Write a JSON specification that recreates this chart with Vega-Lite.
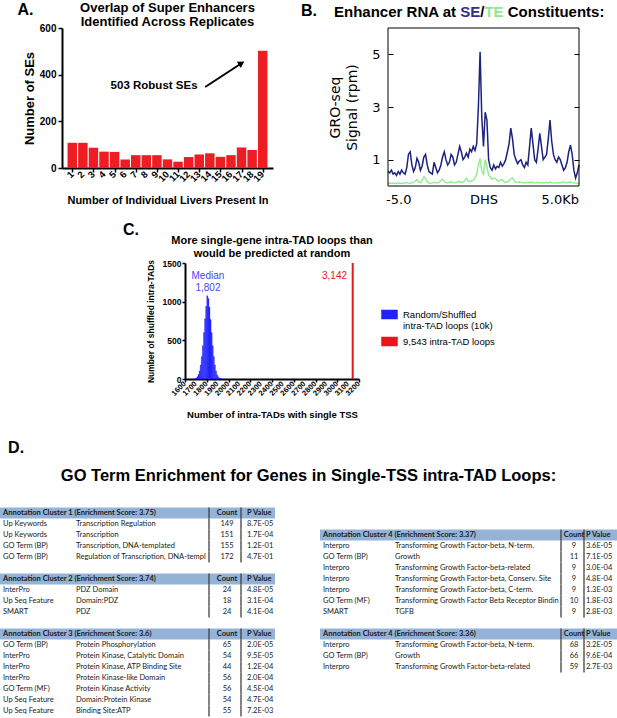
{
"$schema": "https://vega.github.io/schema/vega-lite/v6.json",
"width": 617,
"height": 718,
"autosize": {"type": "none"},
"padding": 0,
"background": "white",
"config": {
  "view": {"stroke": null},
  "axis": {"grid": false, "minExtent": 0, "maxExtent": 400, "labelFlush": false, "labelBound": false, "labelOverlap": false}
},
"datasets": {
  "left": [
    {"g":"L1","r":0,"h":1,"cat":"Annotation Cluster 1 (Enrichment Score: 3.75)","term":"","count":"Count","p":"P Value"},
    {"g":"L1","r":1,"h":0,"cat":"Up Keywords","term":"Transcription Regulation","count":"149","p":"8.7E-05"},
    {"g":"L1","r":2,"h":0,"cat":"Up Keywords","term":"Transcription","count":"151","p":"1.7E-04"},
    {"g":"L1","r":3,"h":0,"cat":"GO Term (BP)","term":"Transcription, DNA-templated","count":"155","p":"1.2E-01"},
    {"g":"L1","r":4,"h":0,"cat":"GO Term (BP)","term":"Regulation of Transcription, DNA-templated","count":"172","p":"4.7E-01"},
    {"g":"L2","r":6,"h":1,"cat":"Annotation Cluster 2 (Enrichment Score: 3.74)","term":"","count":"Count","p":"P Value"},
    {"g":"L2","r":7,"h":0,"cat":"InterPro","term":"PDZ Domain","count":"24","p":"4.8E-05"},
    {"g":"L2","r":8,"h":0,"cat":"Up Seq Feature","term":"Domain:PDZ","count":"18","p":"3.1E-04"},
    {"g":"L2","r":9,"h":0,"cat":"SMART","term":"PDZ","count":"24","p":"4.1E-04"},
    {"g":"L3","r":11,"h":1,"cat":"Annotation Cluster 3 (Enrichment Score: 3.6)","term":"","count":"Count","p":"P Value"},
    {"g":"L3","r":12,"h":0,"cat":"GO Term (BP)","term":"Protein Phosphorylation","count":"65","p":"2.0E-05"},
    {"g":"L3","r":13,"h":0,"cat":"InterPro","term":"Protein Kinase, Catalytic Domain","count":"54","p":"9.5E-05"},
    {"g":"L3","r":14,"h":0,"cat":"InterPro","term":"Protein Kinase, ATP Binding Site","count":"44","p":"1.2E-04"},
    {"g":"L3","r":15,"h":0,"cat":"InterPro","term":"Protein Kinase-like Domain","count":"56","p":"2.0E-04"},
    {"g":"L3","r":16,"h":0,"cat":"GO Term (MF)","term":"Protein Kinase Activity","count":"56","p":"4.5E-04"},
    {"g":"L3","r":17,"h":0,"cat":"Up Seq Feature","term":"Domain:Protein Kinase","count":"54","p":"4.7E-04"},
    {"g":"L3","r":18,"h":0,"cat":"Up Seq Feature","term":"Binding Site:ATP","count":"55","p":"7.2E-03"}
  ],
  "right": [
    {"g":"R1","r":2,"h":1,"cat":"Annotation Cluster 4 (Enrichment Score: 3.37)","term":"","count":"Count","p":"P Value"},
    {"g":"R1","r":3,"h":0,"cat":"Interpro","term":"Transforming Growth Factor-beta, N-term.","count":"9","p":"3.6E-05"},
    {"g":"R1","r":4,"h":0,"cat":"GO Term (BP)","term":"Growth","count":"11","p":"7.1E-05"},
    {"g":"R1","r":5,"h":0,"cat":"Interpro","term":"Transforming Growth Factor-beta-related","count":"9","p":"3.0E-04"},
    {"g":"R1","r":6,"h":0,"cat":"Interpro","term":"Transforming Growth Factor-beta, Conserv. Site","count":"9","p":"4.8E-04"},
    {"g":"R1","r":7,"h":0,"cat":"Interpro","term":"Transforming Growth Factor-beta, C-term.","count":"9","p":"1.3E-03"},
    {"g":"R1","r":8,"h":0,"cat":"GO Term (MF)","term":"Transforming Growth Factor Beta Receptor Binding","count":"10","p":"1.8E-03"},
    {"g":"R1","r":9,"h":0,"cat":"SMART","term":"TGFB","count":"9","p":"2.8E-03"},
    {"g":"R2","r":11,"h":1,"cat":"Annotation Cluster 4 (Enrichment Score: 3.36)","term":"","count":"Count","p":"P Value"},
    {"g":"R2","r":12,"h":0,"cat":"Interpro","term":"Transforming Growth Factor-beta, N-term.","count":"68","p":"3.2E-05"},
    {"g":"R2","r":13,"h":0,"cat":"GO Term (BP)","term":"Growth","count":"66","p":"9.6E-04"},
    {"g":"R2","r":14,"h":0,"cat":"Interpro","term":"Transforming Growth Factor-beta-related","count":"59","p":"2.7E-03"}
  ]
},
"layer": [
  {
    "data": {"values": [
      {"n":1,"c":108},{"n":2,"c":108},{"n":3,"c":87},{"n":4,"c":70},{"n":5,"c":69},{"n":6,"c":36},{"n":7,"c":55},{"n":8,"c":55},{"n":9,"c":55},{"n":10,"c":37},
      {"n":11,"c":27},{"n":12,"c":47},{"n":13,"c":58},{"n":14,"c":63},{"n":15,"c":48},{"n":16,"c":55},{"n":17,"c":88},{"n":18,"c":77},{"n":19,"c":503}
    ]},
    "layer": [
      {
        "mark": {"type": "bar", "orient": "vertical", "size": 9.5, "color": "#ee1d24", "opacity": 1},
        "encoding": {
          "x": {"field": "n", "type": "quantitative",
            "scale": {"domain": [0.5, 19.5], "range": [62, 273], "nice": false, "zero": false},
            "axis": {"orient": "bottom", "values": [1,2,3,4,5,6,7,8,9,10,11,12,13,14,15,16,17,18,19], "offset": -550,
              "labels": false, "tickSize": 4, "tickWidth": 1.5, "tickColor": "black",
              "domainColor": "black", "domainWidth": 2,
              "title": "Number of Individual Livers Present In", "titleFont": "Liberation Sans", "titleFontSize": 11,
              "titleFontWeight": "bold", "titleColor": "black", "titlePadding": 22}},
          "y": {"field": "c", "type": "quantitative",
            "scale": {"domain": [0, 600], "range": [168, 28], "nice": false},
            "axis": {"orient": "left", "values": [0,200,400,600], "format": "d", "offset": -62,
              "labelFont": "Liberation Sans", "labelFontWeight": "bold", "labelFontSize": 10, "labelColor": "black",
              "labelPadding": 2, "tickSize": 4, "tickWidth": 1.5, "tickColor": "black",
              "domainColor": "black", "domainWidth": 2,
              "title": "Number of SEs", "titleFont": "Liberation Sans", "titleFontSize": 13,
              "titleFontWeight": "bold", "titleColor": "black", "titlePadding": 3}}
        }
      },
      {
        "mark": {"type": "text", "angle": 315, "align": "right", "baseline": "middle", "font": "Liberation Sans", "fontWeight": "bold", "fontSize": 9.5, "color": "black"},
        "encoding": {"x": {"field": "n", "type": "quantitative"}, "y": {"datum": -21.4}, "text": {"field": "n", "type": "quantitative", "format": "d"}}
      },
      {
        "data": {"values": [{}]},
        "mark": {"type": "text", "font": "Liberation Sans", "fontSize": 13, "fontWeight": "bold", "lineHeight": 14.5, "align": "center", "baseline": "middle", "color": "black"},
        "encoding": {"x": {"datum": 10}, "y": {"datum": 686}, "text": {"value": ["Overlap of Super Enhancers", "Identified Across Replicates"]}}
      },
      {
        "data": {"values": [{}]},
        "mark": {"type": "text", "font": "Liberation Sans", "fontSize": 16, "fontWeight": "bold", "align": "left", "baseline": "middle", "color": "black"},
        "encoding": {"x": {"datum": -4.18}, "y": {"datum": 676}, "text": {"value": "A."}}
      },
      {
        "data": {"values": [{}]},
        "mark": {"type": "text", "font": "Liberation Sans", "fontSize": 11.5, "fontWeight": "bold", "align": "right", "baseline": "middle", "color": "black"},
        "encoding": {"x": {"datum": 12.84}, "y": {"datum": 350}, "text": {"value": "503 Robust SEs"}}
      },
      {
        "data": {"values": [{}]},
        "mark": {"type": "rule", "color": "black", "strokeWidth": 2},
        "encoding": {"x": {"datum": 13.56}, "y": {"datum": 347}, "x2": {"datum": 17.0}, "y2": {"datum": 449}}
      },
      {
        "data": {"values": [{}]},
        "mark": {"type": "point", "shape": "triangle-up", "filled": true, "color": "black", "size": 55, "angle": 58, "opacity": 1},
        "encoding": {"x": {"datum": 17.0}, "y": {"datum": 449}}
      }
    ]
  },
  {
    "data": {"values": [
      {"kb":-5.6,"se":0.55,"te":0.1},{"kb":-5.5,"se":0.5,"te":0.12},{"kb":-5.4,"se":0.6,"te":0.1},{"kb":-5.3,"se":0.45,"te":0.11},{"kb":-5.2,"se":0.5,"te":0.09},
      {"kb":-5.1,"se":0.4,"te":0.1},{"kb":-5.0,"se":0.55,"te":0.12},{"kb":-4.9,"se":0.45,"te":0.1},{"kb":-4.8,"se":0.6,"te":0.11},{"kb":-4.7,"se":0.5,"te":0.1},
      {"kb":-4.6,"se":0.45,"te":0.12},{"kb":-4.5,"se":0.7,"te":0.13},{"kb":-4.4,"se":1.2,"te":0.11},{"kb":-4.3,"se":1.3,"te":0.1},{"kb":-4.2,"se":0.8,"te":0.12},
      {"kb":-4.1,"se":0.55,"te":0.14},{"kb":-4.0,"se":0.7,"te":0.18},{"kb":-3.9,"se":1.05,"te":0.25},{"kb":-3.8,"se":0.9,"te":0.15},{"kb":-3.7,"se":0.6,"te":0.13},
      {"kb":-3.6,"se":0.75,"te":0.22},{"kb":-3.5,"se":1.1,"te":0.35},{"kb":-3.4,"se":1.2,"te":0.3},{"kb":-3.3,"se":0.8,"te":0.15},{"kb":-3.2,"se":0.55,"te":0.12},
      {"kb":-3.1,"se":0.5,"te":0.1},{"kb":-3.0,"se":0.45,"te":0.12},{"kb":-2.9,"se":0.9,"te":0.14},{"kb":-2.8,"se":0.7,"te":0.12},{"kb":-2.7,"se":0.5,"te":0.11},
      {"kb":-2.6,"se":0.6,"te":0.14},{"kb":-2.5,"se":0.8,"te":0.22},{"kb":-2.4,"se":1.1,"te":0.26},{"kb":-2.3,"se":1.3,"te":0.16},{"kb":-2.2,"se":1.0,"te":0.13},
      {"kb":-2.1,"se":0.8,"te":0.12},{"kb":-2.0,"se":0.9,"te":0.14},{"kb":-1.9,"se":1.2,"te":0.16},{"kb":-1.8,"se":1.1,"te":0.13},{"kb":-1.7,"se":0.8,"te":0.12},
      {"kb":-1.6,"se":0.9,"te":0.14},{"kb":-1.5,"se":1.2,"te":0.15},{"kb":-1.4,"se":1.5,"te":0.18},{"kb":-1.3,"se":1.3,"te":0.14},{"kb":-1.2,"se":1.0,"te":0.15},
      {"kb":-1.1,"se":1.1,"te":0.2},{"kb":-1.0,"se":1.25,"te":0.3},{"kb":-0.9,"se":1.1,"te":0.18},{"kb":-0.8,"se":1.4,"te":0.16},{"kb":-0.7,"se":1.3,"te":0.2},
      {"kb":-0.6,"se":1.5,"te":0.22},{"kb":-0.5,"se":1.35,"te":0.3},{"kb":-0.4,"se":1.6,"te":0.45},{"kb":-0.3,"se":3.0,"te":0.8},{"kb":-0.2,"se":5.1,"te":1.05},
      {"kb":-0.1,"se":2.6,"te":0.55},{"kb":0.0,"se":1.5,"te":0.45},{"kb":0.1,"se":2.8,"te":1.0},{"kb":0.2,"se":2.5,"te":0.75},{"kb":0.3,"se":1.0,"te":0.4},
      {"kb":0.4,"se":0.7,"te":0.35},{"kb":0.5,"se":0.6,"te":0.25},{"kb":0.6,"se":0.8,"te":0.3},{"kb":0.7,"se":0.65,"te":0.3},{"kb":0.8,"se":0.75,"te":0.2},
      {"kb":0.9,"se":0.7,"te":0.18},{"kb":1.0,"se":0.9,"te":0.22},{"kb":1.1,"se":0.75,"te":0.25},{"kb":1.2,"se":0.85,"te":0.16},{"kb":1.3,"se":1.0,"te":0.14},
      {"kb":1.4,"se":1.3,"te":0.15},{"kb":1.5,"se":1.6,"te":0.2},{"kb":1.6,"se":2.2,"te":0.28},{"kb":1.7,"se":1.8,"te":0.3},{"kb":1.8,"se":1.2,"te":0.2},
      {"kb":1.9,"se":1.0,"te":0.14},{"kb":2.0,"se":0.85,"te":0.13},{"kb":2.1,"se":0.95,"te":0.15},{"kb":2.2,"se":1.0,"te":0.14},{"kb":2.3,"se":0.8,"te":0.12},
      {"kb":2.4,"se":0.7,"te":0.13},{"kb":2.5,"se":0.9,"te":0.12},{"kb":2.6,"se":0.8,"te":0.14},{"kb":2.7,"se":1.5,"te":0.13},{"kb":2.8,"se":2.2,"te":0.15},
      {"kb":2.9,"se":1.6,"te":0.13},{"kb":3.0,"se":1.0,"te":0.12},{"kb":3.1,"se":0.9,"te":0.13},{"kb":3.2,"se":1.4,"te":0.14},{"kb":3.3,"se":2.0,"te":0.12},
      {"kb":3.4,"se":1.5,"te":0.12},{"kb":3.5,"se":1.0,"te":0.13},{"kb":3.6,"se":1.1,"te":0.12},{"kb":3.7,"se":1.2,"te":0.14},{"kb":3.8,"se":1.8,"te":0.12},
      {"kb":3.9,"se":2.5,"te":0.15},{"kb":4.0,"se":1.7,"te":0.13},{"kb":4.1,"se":1.2,"te":0.12},{"kb":4.2,"se":1.0,"te":0.11},{"kb":4.3,"se":0.9,"te":0.12},
      {"kb":4.4,"se":1.1,"te":0.13},{"kb":4.5,"se":1.0,"te":0.12},{"kb":4.6,"se":0.8,"te":0.14},{"kb":4.7,"se":0.6,"te":0.16},{"kb":4.8,"se":0.7,"te":0.13},
      {"kb":4.9,"se":0.9,"te":0.12},{"kb":5.0,"se":1.3,"te":0.14},{"kb":5.1,"se":1.55,"te":0.15},{"kb":5.2,"se":1.2,"te":0.13},{"kb":5.3,"se":0.6,"te":0.12},
      {"kb":5.4,"se":0.3,"te":0.11},{"kb":5.5,"se":0.5,"te":0.1},{"kb":5.6,"se":0.8,"te":0.12}
    ]},
    "layer": [
      {
        "mark": {"type": "line", "color": "#8eec8e", "strokeWidth": 1.4},
        "encoding": {
          "x": {"field": "kb", "type": "quantitative",
            "scale": {"domain": [-5.6, 5.6], "range": [388, 579], "nice": false, "zero": false},
            "axis": {"orient": "bottom", "values": [-5, 0, 5], "labelExpr": "datum.value == 0 ? 'DHS' : (datum.value < 0 ? '-5.0' : '5.0Kb')",
              "offset": -532, "labelFont": "DejaVu Sans", "labelFontSize": 13, "labelColor": "black",
              "ticks": false, "domain": false, "labelPadding": 7, "labelOverlap": false, "title": null,
              "labelOffset": {"condition": {"test": "datum.value > 1", "value": -9}, "value": 0}}},
          "y": {"field": "te", "type": "quantitative",
            "scale": {"domain": [0, 6], "range": [186, 28], "nice": false},
            "axis": {"orient": "right", "values": [1, 3, 5], "offset": -38, "labels": false, "tickSize": -5,
              "tickColor": "black", "tickWidth": 1, "domain": false, "title": null}}
        }
      },
      {
        "mark": {"type": "line", "color": "#1c237e", "strokeWidth": 1.5},
        "encoding": {
          "x": {"field": "kb", "type": "quantitative"},
          "y": {"field": "se", "type": "quantitative",
            "axis": {"orient": "left", "values": [1, 3, 5], "offset": -388, "labelFont": "DejaVu Sans", "labelFontSize": 13,
              "labelColor": "black", "tickSize": -5, "tickColor": "black", "tickWidth": 1, "labelPadding": 13,
              "domain": false, "title": ["GRO-seq", "Signal (rpm)"], "titleFont": "DejaVu Sans", "titleFontSize": 14,
              "titleFontWeight": "normal", "titleColor": "black", "titleLineHeight": 17, "titlePadding": 12}}
        }
      },
      {
        "data": {"values": [{}]},
        "mark": {"type": "rect", "filled": false, "color": "black", "strokeWidth": 1},
        "encoding": {"x": {"datum": -5.6}, "x2": {"datum": 5.6}, "y": {"datum": 0, "axis": null}, "y2": {"datum": 6}}
      },
      {
        "data": {"values": [{}]},
        "mark": {"type": "text", "font": "Liberation Sans", "fontSize": 16, "fontWeight": "bold", "align": "left", "baseline": "middle", "color": "black"},
        "encoding": {"x": {"datum": -10.7}, "y": {"datum": 6.65, "axis": null}, "text": {"value": "B."}}
      },
      {
        "data": {"values": [{}]},
        "mark": {"type": "text", "font": "Liberation Sans", "fontSize": 15, "fontWeight": "bold", "align": "right", "baseline": "middle", "color": "black"},
        "encoding": {"x": {"datum": -1.612}, "y": {"datum": 6.6, "axis": null}, "text": {"value": "Enhancer RNA at"}}
      },
      {
        "data": {"values": [{}]},
        "mark": {"type": "text", "font": "Liberation Sans", "fontSize": 15, "fontWeight": "bold", "align": "left", "baseline": "middle", "color": "#2e3192"},
        "encoding": {"x": {"datum": -1.365}, "y": {"datum": 6.6, "axis": null}, "text": {"value": "SE"}}
      },
      {
        "data": {"values": [{}]},
        "mark": {"type": "text", "font": "Liberation Sans", "fontSize": 15, "fontWeight": "bold", "align": "left", "baseline": "middle", "color": "black"},
        "encoding": {"x": {"datum": -0.192}, "y": {"datum": 6.6, "axis": null}, "text": {"value": "/"}}
      },
      {
        "data": {"values": [{}]},
        "mark": {"type": "text", "font": "Liberation Sans", "fontSize": 15, "fontWeight": "bold", "align": "left", "baseline": "middle", "color": "#8ee98e"},
        "encoding": {"x": {"datum": 0.054}, "y": {"datum": 6.6, "axis": null}, "text": {"value": "TE"}}
      },
      {
        "data": {"values": [{}]},
        "mark": {"type": "text", "font": "Liberation Sans", "fontSize": 15, "fontWeight": "bold", "align": "left", "baseline": "middle", "color": "black"},
        "encoding": {"x": {"datum": 1.421}, "y": {"datum": 6.6, "axis": null}, "text": {"value": "Constituents:"}}
      }
    ],
    "resolve": {"axis": {"y": "independent"}}
  },
  {
    "layer": [
      {
        "data": {"values": [
          {"b0":1680,"b1":1690,"n":2},{"b0":1690,"b1":1700,"n":6},{"b0":1700,"b1":1710,"n":14},{"b0":1710,"b1":1720,"n":30},
          {"b0":1720,"b1":1730,"n":58},{"b0":1730,"b1":1740,"n":105},{"b0":1740,"b1":1750,"n":180},{"b0":1750,"b1":1760,"n":290},
          {"b0":1760,"b1":1770,"n":430},{"b0":1770,"b1":1780,"n":600},{"b0":1780,"b1":1790,"n":780},{"b0":1790,"b1":1800,"n":940},
          {"b0":1800,"b1":1810,"n":1075},{"b0":1810,"b1":1820,"n":1040},{"b0":1820,"b1":1830,"n":930},{"b0":1830,"b1":1840,"n":770},
          {"b0":1840,"b1":1850,"n":600},{"b0":1850,"b1":1860,"n":430},{"b0":1860,"b1":1870,"n":290},{"b0":1870,"b1":1880,"n":180},
          {"b0":1880,"b1":1890,"n":105},{"b0":1890,"b1":1900,"n":56},{"b0":1900,"b1":1910,"n":28},{"b0":1910,"b1":1920,"n":13},
          {"b0":1920,"b1":1930,"n":5},{"b0":1930,"b1":1940,"n":2}
        ]},
        "mark": {"type": "rect", "stroke": "#2121ff", "strokeWidth": 0.3, "opacity": 1},
        "encoding": {
          "x": {"field": "b0", "type": "quantitative",
            "scale": {"domain": [1600, 3200], "range": [185, 359], "nice": false, "zero": false},
            "axis": {"orient": "bottom", "values": [1600,1700,1800,1900,2000,2100,2200,2300,2400,2500,2600,2700,2800,2900,3000,3100,3200],
              "offset": -339, "labels": false, "tickSize": 3, "tickWidth": 1.5, "tickColor": "black",
              "domainColor": "black", "domainWidth": 2,
              "title": "Number of intra-TADs with single TSS", "titleFont": "Liberation Sans", "titleFontSize": 9.5,
              "titleFontWeight": "bold", "titleColor": "black", "titlePadding": 27}},
          "x2": {"field": "b1"},
          "y": {"field": "n", "type": "quantitative",
            "scale": {"domain": [0, 1500], "range": [379, 263], "nice": false},
            "axis": {"orient": "left", "values": [0, 500, 1000, 1500], "format": "d", "offset": -185,
              "labelFont": "Liberation Sans", "labelFontWeight": "bold", "labelFontSize": 8.5, "labelColor": "black",
              "labelPadding": 1, "tickSize": 3, "tickWidth": 1.5, "tickColor": "black",
              "domainColor": "black", "domainWidth": 2,
              "title": "Number of shuffled intra-TADs", "titleFont": "Liberation Sans", "titleFontSize": 8.5,
              "titleFontWeight": "bold", "titleColor": "black", "titlePadding": 7}},
          "y2": {"datum": 0},
          "color": {"datum": "Random/Shuffled intra-TAD loops (10k)",
            "scale": {"domain": ["Random/Shuffled intra-TAD loops (10k)", "9,543 intra-TAD loops"], "range": ["#2121ff", "#e8141b"]},
            "legend": {"orient": "none", "legendX": 381, "legendY": 306, "title": null, "padding": 0,
              "symbolType": "M-1,-0.53H1V0.53H-1Z", "symbolSize": 225,
              "labelFont": "Liberation Sans", "labelFontSize": 9.5, "labelColor": "black", "labelOffset": 5,
              "labelLimit": 250, "rowPadding": 2,
              "labelExpr": "datum.label == 'Random/Shuffled intra-TAD loops (10k)' ? ['Random/Shuffled', 'intra-TAD loops (10k)'] : datum.label"}}
        }
      },
      {
        "data": {"values": [{"t":1600},{"t":1700},{"t":1800},{"t":1900},{"t":2000},{"t":2100},{"t":2200},{"t":2300},{"t":2400},{"t":2500},{"t":2600},{"t":2700},{"t":2800},{"t":2900},{"t":3000},{"t":3100},{"t":3200}]},
        "mark": {"type": "text", "angle": 315, "align": "right", "baseline": "middle", "font": "Liberation Sans", "fontWeight": "bold", "fontSize": 7.5, "color": "black"},
        "encoding": {"x": {"field": "t", "type": "quantitative"}, "y": {"datum": -51.7}, "text": {"field": "t", "type": "quantitative", "format": "d"}}
      },
      {
        "data": {"values": [{"v": 3142}]},
        "mark": {"type": "rule", "strokeWidth": 2},
        "encoding": {
          "x": {"field": "v", "type": "quantitative"},
          "y": {"datum": 0}, "y2": {"datum": 1500},
          "color": {"datum": "9,543 intra-TAD loops"}
        }
      },
      {
        "data": {"values": [{}]},
        "mark": {"type": "text", "font": "Liberation Sans", "fontSize": 16, "fontWeight": "bold", "align": "left", "baseline": "middle", "color": "black"},
        "encoding": {"x": {"datum": 1030}, "y": {"datum": 1927}, "text": {"value": "C."}}
      },
      {
        "data": {"values": [{}]},
        "mark": {"type": "text", "font": "Liberation Sans", "fontSize": 11, "fontWeight": "bold", "align": "center", "baseline": "middle", "lineHeight": 13, "color": "black"},
        "encoding": {"x": {"datum": 2400}, "y": {"datum": 1785}, "text": {"value": ["More single-gene intra-TAD loops than", "would be predicted at random"]}}
      },
      {
        "data": {"values": [{}]},
        "mark": {"type": "text", "font": "Liberation Sans", "fontSize": 10, "align": "center", "baseline": "middle", "lineHeight": 12.5, "color": "#4848f0"},
        "encoding": {"x": {"datum": 1811}, "y": {"datum": 1332}, "text": {"value": ["Median", "1,802"]}}
      },
      {
        "data": {"values": [{}]},
        "mark": {"type": "text", "font": "Liberation Sans", "fontSize": 10, "align": "center", "baseline": "middle", "color": "#e8141b"},
        "encoding": {"x": {"datum": 2975}, "y": {"datum": 1332}, "text": {"value": "3,142"}}
      }
    ]
  },
  {
    "layer": [
      {
        "data": {"name": "left"},
        "transform": [{"filter": "datum.h == 1"}],
        "mark": {"type": "rule", "strokeWidth": 11, "color": "#95b3d7"},
        "encoding": {
          "x": {"datum": 0, "type": "quantitative",
            "scale": {"domain": [0,1,2,3,4,5,6,7,10,11,12,13,14,15,16,17], "range": [0,3,76,209,227,241,247,275,320,323,395,561,574,584,586,617], "nice": false, "zero": false},
            "axis": null},
          "x2": {"datum": 7},
          "y": {"field": "r", "type": "quantitative",
            "scale": {"domain": [-0.5, 18.5], "range": [507.5, 716.5], "nice": false, "zero": false},
            "axis": null}
        }
      },
      {
        "data": {"name": "right"},
        "transform": [{"filter": "datum.h == 1"}],
        "mark": {"type": "rule", "strokeWidth": 11, "color": "#95b3d7"},
        "encoding": {"x": {"datum": 10, "type": "quantitative", "axis": null}, "x2": {"datum": 17}, "y": {"field": "r", "type": "quantitative", "axis": null}}
      },
      {
        "data": {"name": "left"},
        "mark": {"type": "tick", "orient": "vertical", "size": 11, "thickness": 1.3, "color": "#404040", "opacity": 1},
        "encoding": {"x": {"datum": 3, "type": "quantitative", "axis": null}, "y": {"field": "r", "type": "quantitative", "axis": null}}
      },
      {
        "data": {"name": "left"},
        "mark": {"type": "tick", "orient": "vertical", "size": 11, "thickness": 1.3, "color": "#404040", "opacity": 1},
        "encoding": {"x": {"datum": 5, "type": "quantitative", "axis": null}, "y": {"field": "r", "type": "quantitative", "axis": null}}
      },
      {
        "data": {"name": "right"},
        "mark": {"type": "tick", "orient": "vertical", "size": 11, "thickness": 1.3, "color": "#404040", "opacity": 1},
        "encoding": {"x": {"datum": 13, "type": "quantitative", "axis": null}, "y": {"field": "r", "type": "quantitative", "axis": null}}
      },
      {
        "data": {"name": "right"},
        "mark": {"type": "tick", "orient": "vertical", "size": 11, "thickness": 1.3, "color": "#404040", "opacity": 1},
        "encoding": {"x": {"datum": 15, "type": "quantitative", "axis": null}, "y": {"field": "r", "type": "quantitative", "axis": null}}
      },
      {
        "data": {"name": "left"},
        "mark": {"type": "text", "font": "Lato", "fontSize": 7.5, "align": "left", "baseline": "middle", "color": "#1a1a1a", "fontWeight": {"expr": "datum.h == 1 ? 'bold' : 'normal'"}},
        "encoding": {"x": {"datum": 1, "type": "quantitative", "axis": null}, "y": {"field": "r", "type": "quantitative", "axis": null}, "text": {"field": "cat"}}
      },
      {
        "data": {"name": "left"},
        "transform": [{"filter": "datum.h == 0"}],
        "mark": {"type": "text", "font": "Lato", "fontSize": 7.5, "align": "left", "baseline": "middle", "color": "#1a1a1a", "limit": 131, "ellipsis": "\u200b"},
        "encoding": {"x": {"datum": 2, "type": "quantitative", "axis": null}, "y": {"field": "r", "type": "quantitative", "axis": null}, "text": {"field": "term"}}
      },
      {
        "data": {"name": "left"},
        "mark": {"type": "text", "font": "Lato", "fontSize": 7.5, "align": "center", "baseline": "middle", "color": "#1a1a1a", "fontWeight": {"expr": "datum.h == 1 ? 'bold' : 'normal'"}},
        "encoding": {"x": {"datum": 4, "type": "quantitative", "axis": null}, "y": {"field": "r", "type": "quantitative", "axis": null}, "text": {"field": "count"}}
      },
      {
        "data": {"name": "left"},
        "mark": {"type": "text", "font": "Lato", "fontSize": 7.5, "align": "left", "baseline": "middle", "color": "#1a1a1a", "fontWeight": {"expr": "datum.h == 1 ? 'bold' : 'normal'"}},
        "encoding": {"x": {"datum": 6, "type": "quantitative", "axis": null}, "y": {"field": "r", "type": "quantitative", "axis": null}, "text": {"field": "p"}}
      },
      {
        "data": {"name": "right"},
        "mark": {"type": "text", "font": "Lato", "fontSize": 7.5, "align": "left", "baseline": "middle", "color": "#1a1a1a", "fontWeight": {"expr": "datum.h == 1 ? 'bold' : 'normal'"}},
        "encoding": {"x": {"datum": 11, "type": "quantitative", "axis": null}, "y": {"field": "r", "type": "quantitative", "axis": null}, "text": {"field": "cat"}}
      },
      {
        "data": {"name": "right"},
        "transform": [{"filter": "datum.h == 0"}],
        "mark": {"type": "text", "font": "Lato", "fontSize": 7.5, "align": "left", "baseline": "middle", "color": "#1a1a1a", "limit": 164, "ellipsis": "\u200b"},
        "encoding": {"x": {"datum": 12, "type": "quantitative", "axis": null}, "y": {"field": "r", "type": "quantitative", "axis": null}, "text": {"field": "term"}}
      },
      {
        "data": {"name": "right"},
        "mark": {"type": "text", "font": "Lato", "fontSize": 7.5, "align": "center", "baseline": "middle", "color": "#1a1a1a", "fontWeight": {"expr": "datum.h == 1 ? 'bold' : 'normal'"}},
        "encoding": {"x": {"datum": 14, "type": "quantitative", "axis": null}, "y": {"field": "r", "type": "quantitative", "axis": null}, "text": {"field": "count"}}
      },
      {
        "data": {"name": "right"},
        "mark": {"type": "text", "font": "Lato", "fontSize": 7.5, "align": "left", "baseline": "middle", "color": "#1a1a1a", "fontWeight": {"expr": "datum.h == 1 ? 'bold' : 'normal'"}},
        "encoding": {"x": {"datum": 16, "type": "quantitative", "axis": null}, "y": {"field": "r", "type": "quantitative", "axis": null}, "text": {"field": "p"}}
      },
      {
        "data": {"values": [{}]},
        "mark": {"type": "text", "font": "Liberation Sans", "fontSize": 16, "fontWeight": "bold", "align": "left", "baseline": "middle", "color": "black"},
        "encoding": {"x": {"datum": 1.07, "type": "quantitative", "axis": null}, "y": {"datum": -5.91, "type": "quantitative", "axis": null}, "text": {"value": "D."}}
      },
      {
        "data": {"values": [{}]},
        "mark": {"type": "text", "font": "Liberation Sans", "fontSize": 16.5, "fontWeight": "bold", "align": "center", "baseline": "middle", "color": "black"},
        "encoding": {"y": {"datum": -3.36, "type": "quantitative", "axis": null}, "text": {"value": "GO Term Enrichment for Genes in Single-TSS intra-TAD Loops:"}}
      }
    ]
  }
],
"resolve": {"scale": {"x": "independent", "y": "independent"}, "axis": {"x": "independent", "y": "independent"}}
}
